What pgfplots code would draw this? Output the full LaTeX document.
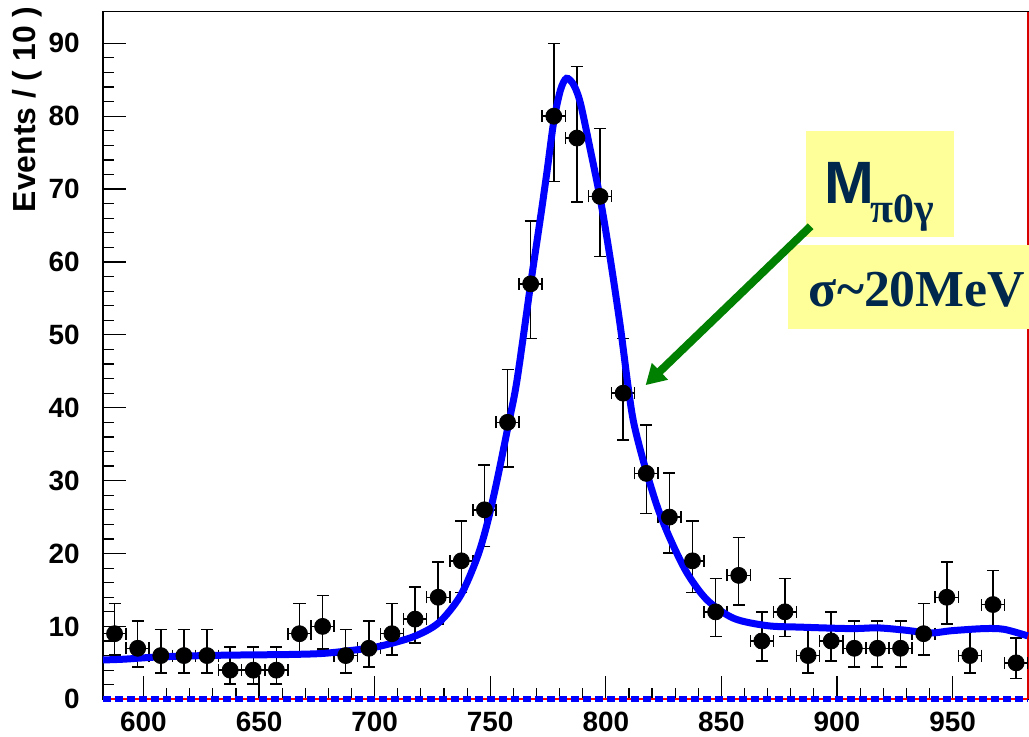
\documentclass[border=0pt]{standalone}
\usepackage{fontspec}
\setmainfont{Liberation Sans}
\newfontfamily\serifb{Liberation Serif}
\usepackage{pgfplots}
\usepackage{pgfplotstable}
\usetikzlibrary{arrows.meta}
\pgfplotsset{compat=1.18}
\definecolor{navy}{RGB}{0,40,77}
\definecolor{yel}{RGB}{255,255,153}
\definecolor{grn}{RGB}{0,128,0}
\definecolor{fitblue}{RGB}{0,0,255}

\pgfplotstableread{
x y ex eyp eym
587.5 9 5 4.11 2.94
597.5 7 5 3.77 2.58
607.5 6 5 3.58 2.38
617.5 6 5 3.58 2.38
627.5 6 5 3.58 2.38
637.5 4 5 3.16 1.91
647.5 4 5 3.16 1.91
657.5 4 5 3.16 1.91
667.5 9 5 4.11 2.94
677.5 10 5 4.27 3.11
687.5 6 5 3.58 2.38
697.5 7 5 3.77 2.58
707.5 9 5 4.11 2.94
717.5 11 5 4.41 3.26
727.5 14 5 4.83 3.69
737.5 19 5 5.43 4.32
747.5 26 5 6.17 5.07
757.5 38 5 7.22 6.14
767.5 57 5 8.60 7.53
777.5 80 5 9.97 8.94
787.5 77 5 9.81 8.75
797.5 69 5 9.33 8.28
807.5 42 5 7.52 6.45
817.5 31 5 6.62 5.54
827.5 25 5 6.06 4.96
837.5 19 5 5.43 4.32
847.5 12 5 4.55 3.41
857.5 17 5 5.20 4.07
867.5 8 5 3.95 2.77
877.5 12 5 4.55 3.41
887.5 6 5 3.58 2.38
897.5 8 5 3.95 2.77
907.5 7 5 3.77 2.58
917.5 7 5 3.77 2.58
927.5 7 5 3.77 2.58
937.5 9 5 4.11 2.94
947.5 14 5 4.83 3.69
957.5 6 5 3.58 2.38
967.5 13 5 4.69 3.55
977.5 5 5 3.38 2.16
}\datatab

\begin{document}
\begin{tikzpicture}
\begin{axis}[
  name=a,
  scale only axis,
  width=462.35bp, height=343.8bp,
  xmin=582.5, xmax=982.5, ymin=0, ymax=94.34,
  xtick={600,650,...,950}, ytick={0,10,...,90},
  minor x tick num=4, minor y tick num=4,
  tick align=inside, xtick pos=left, ytick pos=left,
  major tick length=11.5bp, minor tick length=5.5bp,
  tick style={black, line width=0.6bp},
  axis line style={black, line width=0.8bp},
  /pgf/number format/assume math mode=true,
  tick label style={font=\bfseries\fontsize{14}{14}\selectfont},
  yticklabel style={anchor=east, inner sep=0pt, xshift=-11.5bp},
  xticklabel style={anchor=north, inner sep=0pt, yshift=-6bp},
  ylabel={Events / ( 10 )},
  ylabel style={font=\bfseries\fontsize{16}{16}\selectfont, inner sep=0pt,
    at={(axis description cs:-0.0822,1.008)}, anchor=east},
  clip=false,
]
% baseline components
\addplot[red, line width=1bp] coordinates {(582.5,0) (982.5,0)};
\addplot[fitblue, line width=3bp, dash pattern=on 4bp off 2bp] coordinates {(582.5,0) (982.5,0)};
% right frame
\addplot[red!85!black, line width=1.2bp] coordinates {(982.5,0) (982.5,94.34)};
% data
\addplot[only marks, mark=*, mark size=4bp, black,
  error bars/.cd, x dir=both, x explicit, y dir=both, y explicit,
  error bar style={line width=0.75bp, black},
  error mark options={rotate=90, mark size=3bp, line width=0.75bp, black}]
  table[x=x, y=y, x error=ex, y error plus=eyp, y error minus=eym] {\datatab};
% fit
\addplot[fitblue, line width=3.5bp, smooth] coordinates {
(582.5,5.4)(591.3,5.5)(605.8,5.8)(620.2,5.95)(634.6,6.05)(649.1,6.1)(663.5,6.15)
(677.9,6.3)(692.4,6.8)(702.5,7.3)(716.9,8.6)(727.7,10.5)(737.1,14.2)(744.3,19.4)
(748.7,24.1)(753,30.1)(758,37.9)(761.6,43.8)(767.5,57)(771.7,66)(774.6,72.5)
(777.5,79.3)(780.4,83.6)(783,85.2)(786.1,84.3)(789,81.8)(793.3,75.4)(797.7,68.5)
(802,60.3)(806.3,51.1)(809.6,43)(812.1,37.9)(816.5,32.4)(822.3,26.4)(828,21.9)
(835.2,17.3)(843.9,13.6)(855.4,11.1)(869.9,10.1)(884.3,9.9)(905.9,9.7)(917.5,9.8)
(929,9.5)(940.6,9.1)(949.2,9.4)(963.6,9.7)(972.3,9.6)(982.5,8.7)};
% annotations
\fill[yel] (axis cs:886.4,63.42) rectangle (axis cs:950.5,77.97);
\fill[yel] (axis cs:878.6,50.81) rectangle (axis cs:990,62.33);
\node[anchor=base west, inner sep=0pt, text=navy, font=\bfseries\fontsize{30}{30}\selectfont]
  at (axis cs:894.5,68.0) {M};
\node[anchor=base west, inner sep=0pt, text=navy, font=\serifb\bfseries\fontsize{21}{21}\selectfont]
  at (axis cs:914.5,65.4) {π0γ};
\node[anchor=base west, inner sep=0pt, text=navy, font=\serifb\bfseries\fontsize{26}{26}\selectfont]
  at (axis cs:887.7,53.86) {σ\char"007E 20MeV};
\draw[grn, line width=4bp, -{Triangle[length=10bp,width=11bp]}]
  (axis cs:888.6,64.9) -- (axis cs:817.2,43.1);
\end{axis}
\pgfresetboundingbox
\path[use as bounding box] ([shift={(-51.5bp,-18.85bp)}]a.south west) rectangle ([shift={(463bp,349.65bp)}]a.south west);
\end{tikzpicture}
\end{document}
